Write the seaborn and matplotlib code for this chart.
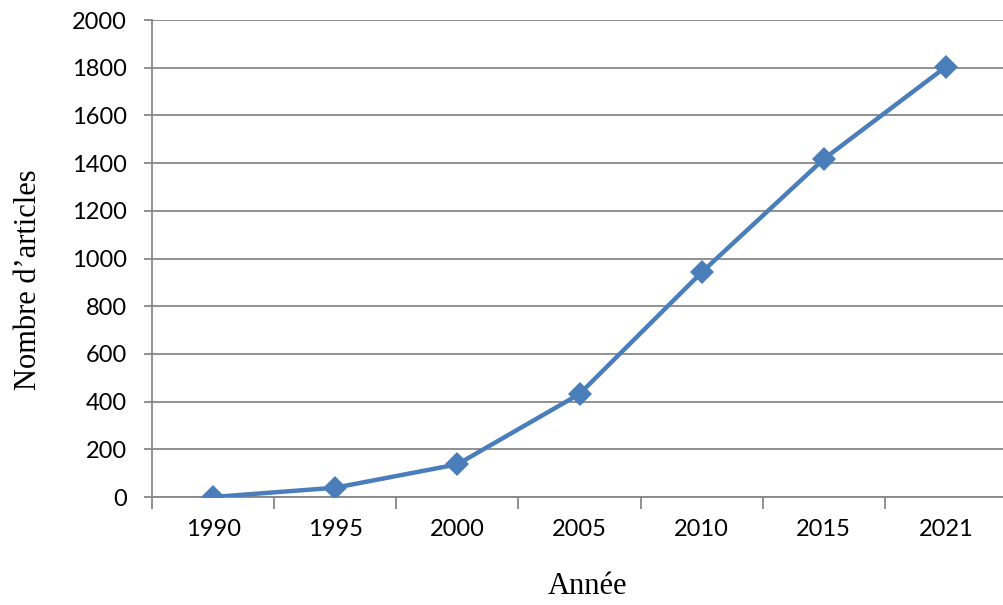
import matplotlib
matplotlib.use("Agg")
import matplotlib.pyplot as plt
import seaborn as sns
import pandas as pd
import numpy as np
from matplotlib.ticker import FixedLocator

# Number of published articles per year
years = ["1990", "1995", "2000", "2005", "2010", "2015", "2021"]
articles = [0, 39, 137, 432, 942, 1417, 1804]
y_ticks = [0, 200, 400, 600, 800, 1000, 1200, 1400, 1600, 1800, 2000]

df = pd.DataFrame({"Année": years, "Articles": articles})

sns.set_theme(style="white")
plt.rcParams["font.family"] = ["Lato", "DejaVu Sans"]

fig = plt.figure(figsize=(10.04, 6.05), dpi=100)
ax = fig.add_axes([0.1514, 0.1785, 0.8516, 0.7884])

line_color = "#4A7EBB"
grid_color = "#888888"

sns.pointplot(data=df, x="Année", y="Articles", ax=ax, color=line_color,
              markers="D", linestyles="-", errorbar=None,
              markersize=12.5, linewidth=3.2)
for ln in ax.lines:
    ln.set_markeredgewidth(0)
    ln.set_solid_joinstyle("round")
    ln.set_zorder(5)

ax.set_ylim(0, 2000)
ax.set_xlim(-0.5, len(years) - 0.5)
ax.set_yticks(y_ticks)
ax.set_yticklabels([str(v) for v in y_ticks])

# category separators as minor ticks on the x axis
ax.xaxis.set_minor_locator(FixedLocator(np.arange(-0.5, len(years), 1.0)))
ax.tick_params(axis="x", which="major", length=0, pad=16, labelsize=17,
               labelcolor="black")
ax.tick_params(axis="x", which="minor", length=8.5, width=1.3,
               color=grid_color, direction="out", bottom=True)
ax.tick_params(axis="y", which="major", length=6, width=1.3,
               color=grid_color, direction="out", left=True, pad=12,
               labelsize=17, labelcolor="black")

ax.yaxis.grid(True, color=grid_color, linewidth=1.3)
ax.xaxis.grid(False)
ax.set_axisbelow(True)

for side in ["top", "right"]:
    ax.spines[side].set_visible(False)
for side in ["left", "bottom"]:
    ax.spines[side].set_color(grid_color)
    ax.spines[side].set_linewidth(1.3)

ax.set_xlabel("Année", fontsize=22, family="Liberation Serif", color="black")
ax.set_ylabel("Nombre d’articles", fontsize=22, family="Liberation Serif",
              color="black")
ax.xaxis.set_label_coords(0.509, -0.158)
ax.yaxis.set_label_coords(-0.128, 0.455)

fig.savefig("out.png", dpi=100)
